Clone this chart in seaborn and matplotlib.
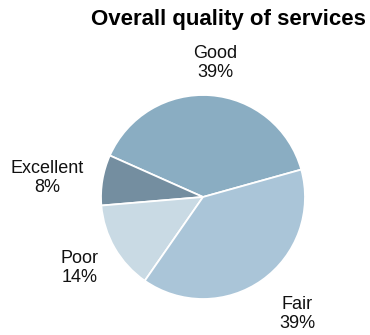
import numpy as np
import matplotlib
matplotlib.use("Agg")
import matplotlib.pyplot as plt
import seaborn as sns

# Survey shares, listed counter-clockwise starting from the Good/Fair boundary
categories = ["Good", "Excellent", "Poor", "Fair"]
shares = [39, 8, 14, 39]
pct_labels = ["39%", "8%", "14%", "39%"]

colors = ["#8AADC2", "#748EA0", "#C9DAE4", "#AAC5D8"]
# radial distance and angular nudge (degrees) for each outside label
label_dist = [1.32, 1.54, 1.40, 1.47]
label_nudge = [-1.0, 2.6, 0.0, 3.6]

sns.set_theme(style="white")
plt.rcParams["font.family"] = ["Liberation Sans", "DejaVu Sans"]

W, H = 370, 335
fig = plt.figure(figsize=(W / 100, H / 100), dpi=100)
fig.patch.set_facecolor("white")

cx, cy, r = 203, 197, 102
ax = fig.add_axes([(cx - r) / W, (H - cy - r) / H, 2 * r / W, 2 * r / H])

wedges, _ = ax.pie(
    shares,
    colors=colors,
    startangle=15.6,
    counterclock=True,
    radius=1.0,
    wedgeprops=dict(edgecolor="white", linewidth=1.3),
)
ax.set_xlim(-1, 1)
ax.set_ylim(-1, 1)
ax.set_aspect("equal")
ax.axis("off")

for w, cat, pct, d, nd in zip(wedges, categories, pct_labels, label_dist, label_nudge):
    mid = np.deg2rad((w.theta1 + w.theta2) / 2 + nd)
    ax.text(d * np.cos(mid), d * np.sin(mid), f"{cat}\n{pct}",
            ha="center", va="center", fontsize=13, color="#111111",
            linespacing=1.15)

fig.text(228 / W, 1 - 20 / H, "Overall quality of services",
         ha="center", va="center", fontsize=16, fontweight="bold",
         color="#000000")

fig.savefig("out.png", dpi=100)
